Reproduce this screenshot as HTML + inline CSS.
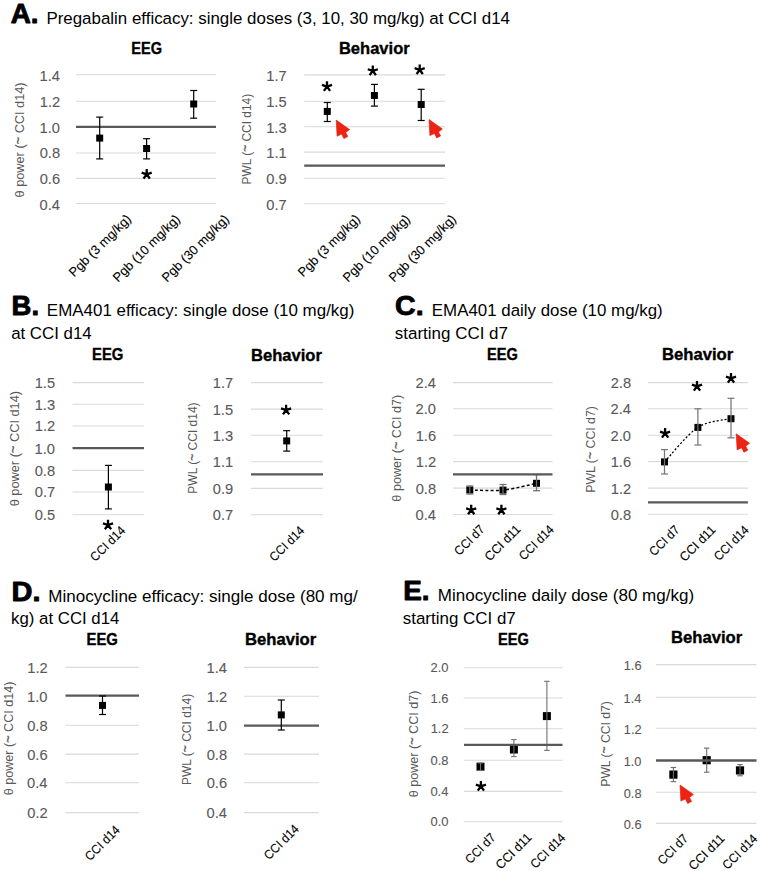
<!DOCTYPE html>
<html><head><meta charset="utf-8"><style>
html,body{margin:0;padding:0;background:#fff;}
svg{display:block;font-family:"Liberation Sans", sans-serif;}
</style></head><body>
<svg width="760" height="871" viewBox="0 0 760 871">
<rect width="760" height="871" fill="#fff"/>
<line x1="76.00" y1="74.80" x2="216.00" y2="74.80" stroke="#d9d9d9" stroke-width="1.1"/>
<line x1="76.00" y1="101.30" x2="216.00" y2="101.30" stroke="#d9d9d9" stroke-width="1.1"/>
<line x1="76.00" y1="126.80" x2="216.00" y2="126.80" stroke="#d9d9d9" stroke-width="1.1"/>
<line x1="76.00" y1="153.00" x2="216.00" y2="153.00" stroke="#d9d9d9" stroke-width="1.1"/>
<line x1="76.00" y1="178.40" x2="216.00" y2="178.40" stroke="#d9d9d9" stroke-width="1.1"/>
<line x1="76.00" y1="203.50" x2="216.00" y2="203.50" stroke="#d9d9d9" stroke-width="1.1"/>
<text x="39.52" y="81.10" font-size="15.3" fill="#595959" font-weight="normal" textLength="20.42" lengthAdjust="spacingAndGlyphs" stroke="#595959" stroke-width="0.1">1.4</text>
<text x="39.82" y="106.86" font-size="15.3" fill="#595959" font-weight="normal" textLength="20.42" lengthAdjust="spacingAndGlyphs" stroke="#595959" stroke-width="0.1">1.2</text>
<text x="39.60" y="132.62" font-size="15.3" fill="#595959" font-weight="normal" textLength="20.42" lengthAdjust="spacingAndGlyphs" stroke="#595959" stroke-width="0.1">1.0</text>
<text x="39.67" y="158.38" font-size="15.3" fill="#595959" font-weight="normal" textLength="20.42" lengthAdjust="spacingAndGlyphs" stroke="#595959" stroke-width="0.1">0.8</text>
<text x="39.67" y="184.14" font-size="15.3" fill="#595959" font-weight="normal" textLength="20.42" lengthAdjust="spacingAndGlyphs" stroke="#595959" stroke-width="0.1">0.6</text>
<text x="39.52" y="209.90" font-size="15.3" fill="#595959" font-weight="normal" textLength="20.42" lengthAdjust="spacingAndGlyphs" stroke="#595959" stroke-width="0.1">0.4</text>
<line x1="76.00" y1="126.80" x2="216.00" y2="126.80" stroke="#595959" stroke-width="2.3"/>
<text transform="translate(23.50,197.44) rotate(-90)" font-size="12.8" fill="#595959" font-weight="normal" textLength="115.03" lengthAdjust="spacingAndGlyphs">θ power (<tspan dy="-1.7" stroke="#595959" stroke-width="0.35">~</tspan><tspan dy="1.7"> CCI d14)</tspan></text>
<text x="131.25" y="53.90" font-size="16.7" fill="#000" font-weight="bold" textLength="30.75" lengthAdjust="spacingAndGlyphs" stroke="#000" stroke-width="0.35">EEG</text>
<line x1="99.70" y1="117.10" x2="99.70" y2="158.90" stroke="#000" stroke-width="1.2"/>
<line x1="96.20" y1="117.10" x2="103.20" y2="117.10" stroke="#000" stroke-width="1.2"/>
<line x1="96.20" y1="158.90" x2="103.20" y2="158.90" stroke="#000" stroke-width="1.2"/>
<rect x="96.20" y="134.60" width="7" height="7" fill="#000"/>
<line x1="146.60" y1="138.70" x2="146.60" y2="158.90" stroke="#000" stroke-width="1.2"/>
<line x1="143.10" y1="138.70" x2="150.10" y2="138.70" stroke="#000" stroke-width="1.2"/>
<line x1="143.10" y1="158.90" x2="150.10" y2="158.90" stroke="#000" stroke-width="1.2"/>
<rect x="143.10" y="145.00" width="7" height="7" fill="#000"/>
<line x1="193.70" y1="90.50" x2="193.70" y2="118.20" stroke="#000" stroke-width="1.2"/>
<line x1="190.20" y1="90.50" x2="197.20" y2="90.50" stroke="#000" stroke-width="1.2"/>
<line x1="190.20" y1="118.20" x2="197.20" y2="118.20" stroke="#000" stroke-width="1.2"/>
<rect x="190.20" y="100.50" width="7" height="7" fill="#000"/>
<path d="M146.70 174.30L146.70 169.00M146.70 174.30L151.74 172.66M146.70 174.30L149.82 178.59M146.70 174.30L143.58 178.59M146.70 174.30L141.66 172.66" stroke="#000" stroke-width="2.3" fill="none"/>
<text transform="translate(74.09,277.61) rotate(-45)" font-size="12.8" fill="#000" font-weight="normal" textLength="81.76" lengthAdjust="spacingAndGlyphs" stroke="#000" stroke-width="0.1">Pgb (3 mg/kg)</text>
<text transform="translate(117.94,282.76) rotate(-45)" font-size="12.8" fill="#000" font-weight="normal" textLength="89.00" lengthAdjust="spacingAndGlyphs" stroke="#000" stroke-width="0.1">Pgb (10 mg/kg)</text>
<text transform="translate(166.94,282.76) rotate(-45)" font-size="12.8" fill="#000" font-weight="normal" textLength="89.00" lengthAdjust="spacingAndGlyphs" stroke="#000" stroke-width="0.1">Pgb (30 mg/kg)</text>
<line x1="304.20" y1="74.90" x2="445.00" y2="74.90" stroke="#d9d9d9" stroke-width="1.1"/>
<line x1="304.20" y1="101.30" x2="445.00" y2="101.30" stroke="#d9d9d9" stroke-width="1.1"/>
<line x1="304.20" y1="126.70" x2="445.00" y2="126.70" stroke="#d9d9d9" stroke-width="1.1"/>
<line x1="304.20" y1="152.10" x2="445.00" y2="152.10" stroke="#d9d9d9" stroke-width="1.1"/>
<line x1="304.20" y1="178.20" x2="445.00" y2="178.20" stroke="#d9d9d9" stroke-width="1.1"/>
<line x1="304.20" y1="203.70" x2="445.00" y2="203.70" stroke="#d9d9d9" stroke-width="1.1"/>
<text x="266.32" y="81.10" font-size="15.3" fill="#595959" font-weight="normal" textLength="20.42" lengthAdjust="spacingAndGlyphs" stroke="#595959" stroke-width="0.1">1.7</text>
<text x="266.17" y="106.86" font-size="15.3" fill="#595959" font-weight="normal" textLength="20.42" lengthAdjust="spacingAndGlyphs" stroke="#595959" stroke-width="0.1">1.5</text>
<text x="266.17" y="132.62" font-size="15.3" fill="#595959" font-weight="normal" textLength="20.42" lengthAdjust="spacingAndGlyphs" stroke="#595959" stroke-width="0.1">1.3</text>
<text x="266.24" y="158.38" font-size="15.3" fill="#595959" font-weight="normal" textLength="20.42" lengthAdjust="spacingAndGlyphs" stroke="#595959" stroke-width="0.1">1.1</text>
<text x="266.24" y="184.14" font-size="15.3" fill="#595959" font-weight="normal" textLength="20.42" lengthAdjust="spacingAndGlyphs" stroke="#595959" stroke-width="0.1">0.9</text>
<text x="266.32" y="209.90" font-size="15.3" fill="#595959" font-weight="normal" textLength="20.42" lengthAdjust="spacingAndGlyphs" stroke="#595959" stroke-width="0.1">0.7</text>
<line x1="304.20" y1="165.60" x2="445.00" y2="165.60" stroke="#595959" stroke-width="2.3"/>
<text transform="translate(250.80,184.45) rotate(-90)" font-size="12.8" fill="#595959" font-weight="normal" textLength="90.62" lengthAdjust="spacingAndGlyphs">PWL (<tspan dy="-1.7" stroke="#595959" stroke-width="0.35">~</tspan><tspan dy="1.7"> CCI d14)</tspan></text>
<text x="338.92" y="53.90" font-size="16.7" fill="#000" font-weight="bold" textLength="70.81" lengthAdjust="spacingAndGlyphs" stroke="#000" stroke-width="0.35">Behavior</text>
<line x1="327.30" y1="102.50" x2="327.30" y2="121.50" stroke="#000" stroke-width="1.2"/>
<line x1="323.80" y1="102.50" x2="330.80" y2="102.50" stroke="#000" stroke-width="1.2"/>
<line x1="323.80" y1="121.50" x2="330.80" y2="121.50" stroke="#000" stroke-width="1.2"/>
<rect x="323.80" y="107.90" width="7" height="7" fill="#000"/>
<line x1="374.40" y1="84.40" x2="374.40" y2="106.10" stroke="#000" stroke-width="1.2"/>
<line x1="370.90" y1="84.40" x2="377.90" y2="84.40" stroke="#000" stroke-width="1.2"/>
<line x1="370.90" y1="106.10" x2="377.90" y2="106.10" stroke="#000" stroke-width="1.2"/>
<rect x="370.90" y="92.00" width="7" height="7" fill="#000"/>
<line x1="421.20" y1="89.30" x2="421.20" y2="120.50" stroke="#000" stroke-width="1.2"/>
<line x1="417.70" y1="89.30" x2="424.70" y2="89.30" stroke="#000" stroke-width="1.2"/>
<line x1="417.70" y1="120.50" x2="424.70" y2="120.50" stroke="#000" stroke-width="1.2"/>
<rect x="417.70" y="101.00" width="7" height="7" fill="#000"/>
<path d="M327.00 86.60L327.00 81.30M327.00 86.60L332.04 84.96M327.00 86.60L330.12 90.89M327.00 86.60L323.88 90.89M327.00 86.60L321.96 84.96" stroke="#000" stroke-width="2.3" fill="none"/>
<path d="M372.80 70.90L372.80 65.60M372.80 70.90L377.84 69.26M372.80 70.90L375.92 75.19M372.80 70.90L369.68 75.19M372.80 70.90L367.76 69.26" stroke="#000" stroke-width="2.3" fill="none"/>
<path d="M419.70 69.80L419.70 64.50M419.70 69.80L424.74 68.16M419.70 69.80L422.82 74.09M419.70 69.80L416.58 74.09M419.70 69.80L414.66 68.16" stroke="#000" stroke-width="2.3" fill="none"/>
<polygon points="336.20,120.10 337.10,136.20 341.60,134.10 343.90,138.60 347.80,136.50 345.70,132.60 349.60,129.50" fill="#ef2312" stroke="#d81a0c" stroke-width="0.6" stroke-linejoin="round"/>
<polygon points="429.00,119.50 429.90,135.60 434.40,133.50 436.70,138.00 440.60,135.90 438.50,132.00 442.40,128.90" fill="#ef2312" stroke="#d81a0c" stroke-width="0.6" stroke-linejoin="round"/>
<text transform="translate(303.09,277.61) rotate(-45)" font-size="12.8" fill="#000" font-weight="normal" textLength="81.76" lengthAdjust="spacingAndGlyphs" stroke="#000" stroke-width="0.1">Pgb (3 mg/kg)</text>
<text transform="translate(347.94,282.76) rotate(-45)" font-size="12.8" fill="#000" font-weight="normal" textLength="89.00" lengthAdjust="spacingAndGlyphs" stroke="#000" stroke-width="0.1">Pgb (10 mg/kg)</text>
<text transform="translate(393.94,282.76) rotate(-45)" font-size="12.8" fill="#000" font-weight="normal" textLength="89.00" lengthAdjust="spacingAndGlyphs" stroke="#000" stroke-width="0.1">Pgb (30 mg/kg)</text>
<line x1="72.50" y1="382.60" x2="144.00" y2="382.60" stroke="#d9d9d9" stroke-width="1.1"/>
<line x1="72.50" y1="404.30" x2="144.00" y2="404.30" stroke="#d9d9d9" stroke-width="1.1"/>
<line x1="72.50" y1="426.00" x2="144.00" y2="426.00" stroke="#d9d9d9" stroke-width="1.1"/>
<line x1="72.50" y1="470.40" x2="144.00" y2="470.40" stroke="#d9d9d9" stroke-width="1.1"/>
<line x1="72.50" y1="492.00" x2="144.00" y2="492.00" stroke="#d9d9d9" stroke-width="1.1"/>
<line x1="72.50" y1="514.80" x2="144.00" y2="514.80" stroke="#d9d9d9" stroke-width="1.1"/>
<text x="34.67" y="388.00" font-size="15.3" fill="#595959" font-weight="normal" textLength="20.42" lengthAdjust="spacingAndGlyphs" stroke="#595959" stroke-width="0.1">1.5</text>
<text x="34.67" y="409.70" font-size="15.3" fill="#595959" font-weight="normal" textLength="20.42" lengthAdjust="spacingAndGlyphs" stroke="#595959" stroke-width="0.1">1.3</text>
<text x="34.82" y="431.40" font-size="15.3" fill="#595959" font-weight="normal" textLength="20.42" lengthAdjust="spacingAndGlyphs" stroke="#595959" stroke-width="0.1">1.2</text>
<text x="34.67" y="475.80" font-size="15.3" fill="#595959" font-weight="normal" textLength="20.42" lengthAdjust="spacingAndGlyphs" stroke="#595959" stroke-width="0.1">0.8</text>
<text x="34.82" y="497.40" font-size="15.3" fill="#595959" font-weight="normal" textLength="20.42" lengthAdjust="spacingAndGlyphs" stroke="#595959" stroke-width="0.1">0.7</text>
<text x="34.67" y="520.20" font-size="15.3" fill="#595959" font-weight="normal" textLength="20.42" lengthAdjust="spacingAndGlyphs" stroke="#595959" stroke-width="0.1">0.5</text>
<text x="34.60" y="454.10" font-size="15.3" fill="#595959" font-weight="normal" textLength="20.42" lengthAdjust="spacingAndGlyphs" stroke="#595959" stroke-width="0.1">1.0</text>
<line x1="72.50" y1="448.10" x2="144.00" y2="448.10" stroke="#595959" stroke-width="2.3"/>
<text transform="translate(18.80,506.34) rotate(-90)" font-size="12.8" fill="#595959" font-weight="normal" textLength="115.43" lengthAdjust="spacingAndGlyphs">θ power (<tspan dy="-1.7" stroke="#595959" stroke-width="0.35">~</tspan><tspan dy="1.7"> CCI d14)</tspan></text>
<text x="92.03" y="360.00" font-size="16.7" fill="#000" font-weight="bold" textLength="31.39" lengthAdjust="spacingAndGlyphs" stroke="#000" stroke-width="0.35">EEG</text>
<line x1="108.40" y1="465.40" x2="108.40" y2="508.90" stroke="#000" stroke-width="1.2"/>
<line x1="104.90" y1="465.40" x2="111.90" y2="465.40" stroke="#000" stroke-width="1.2"/>
<line x1="104.90" y1="508.90" x2="111.90" y2="508.90" stroke="#000" stroke-width="1.2"/>
<rect x="104.90" y="483.50" width="7" height="7" fill="#000"/>
<path d="M108.00 525.00L108.00 519.70M108.00 525.00L113.04 523.36M108.00 525.00L111.12 529.29M108.00 525.00L104.88 529.29M108.00 525.00L102.96 523.36" stroke="#000" stroke-width="2.3" fill="none"/>
<text transform="translate(95.33,562.17) rotate(-45)" font-size="12.8" fill="#000" font-weight="normal" textLength="43.48" lengthAdjust="spacingAndGlyphs" stroke="#000" stroke-width="0.1">CCI d14</text>
<line x1="251.00" y1="382.60" x2="323.00" y2="382.60" stroke="#d9d9d9" stroke-width="1.1"/>
<line x1="251.00" y1="409.10" x2="323.00" y2="409.10" stroke="#d9d9d9" stroke-width="1.1"/>
<line x1="251.00" y1="435.30" x2="323.00" y2="435.30" stroke="#d9d9d9" stroke-width="1.1"/>
<line x1="251.00" y1="461.80" x2="323.00" y2="461.80" stroke="#d9d9d9" stroke-width="1.1"/>
<line x1="251.00" y1="488.40" x2="323.00" y2="488.40" stroke="#d9d9d9" stroke-width="1.1"/>
<line x1="251.00" y1="514.70" x2="323.00" y2="514.70" stroke="#d9d9d9" stroke-width="1.1"/>
<text x="212.82" y="388.00" font-size="15.3" fill="#595959" font-weight="normal" textLength="20.42" lengthAdjust="spacingAndGlyphs" stroke="#595959" stroke-width="0.1">1.7</text>
<text x="212.67" y="414.50" font-size="15.3" fill="#595959" font-weight="normal" textLength="20.42" lengthAdjust="spacingAndGlyphs" stroke="#595959" stroke-width="0.1">1.5</text>
<text x="212.67" y="440.70" font-size="15.3" fill="#595959" font-weight="normal" textLength="20.42" lengthAdjust="spacingAndGlyphs" stroke="#595959" stroke-width="0.1">1.3</text>
<text x="212.74" y="467.20" font-size="15.3" fill="#595959" font-weight="normal" textLength="20.42" lengthAdjust="spacingAndGlyphs" stroke="#595959" stroke-width="0.1">1.1</text>
<text x="212.74" y="493.80" font-size="15.3" fill="#595959" font-weight="normal" textLength="20.42" lengthAdjust="spacingAndGlyphs" stroke="#595959" stroke-width="0.1">0.9</text>
<text x="212.82" y="520.10" font-size="15.3" fill="#595959" font-weight="normal" textLength="20.42" lengthAdjust="spacingAndGlyphs" stroke="#595959" stroke-width="0.1">0.7</text>
<line x1="251.00" y1="474.30" x2="323.00" y2="474.30" stroke="#595959" stroke-width="2.3"/>
<text transform="translate(197.20,493.66) rotate(-90)" font-size="12.8" fill="#595959" font-weight="normal" textLength="91.23" lengthAdjust="spacingAndGlyphs">PWL (<tspan dy="-1.7" stroke="#595959" stroke-width="0.35">~</tspan><tspan dy="1.7"> CCI d14)</tspan></text>
<text x="250.92" y="360.50" font-size="16.7" fill="#000" font-weight="bold" textLength="71.07" lengthAdjust="spacingAndGlyphs" stroke="#000" stroke-width="0.35">Behavior</text>
<line x1="286.70" y1="430.70" x2="286.70" y2="451.10" stroke="#000" stroke-width="1.2"/>
<line x1="283.20" y1="430.70" x2="290.20" y2="430.70" stroke="#000" stroke-width="1.2"/>
<line x1="283.20" y1="451.10" x2="290.20" y2="451.10" stroke="#000" stroke-width="1.2"/>
<rect x="283.20" y="437.40" width="7" height="7" fill="#000"/>
<path d="M286.10 410.10L286.10 404.80M286.10 410.10L291.14 408.46M286.10 410.10L289.22 414.39M286.10 410.10L282.98 414.39M286.10 410.10L281.06 408.46" stroke="#000" stroke-width="2.3" fill="none"/>
<text transform="translate(274.53,562.17) rotate(-45)" font-size="12.8" fill="#000" font-weight="normal" textLength="43.48" lengthAdjust="spacingAndGlyphs" stroke="#000" stroke-width="0.1">CCI d14</text>
<line x1="453.00" y1="382.60" x2="552.50" y2="382.60" stroke="#d9d9d9" stroke-width="1.1"/>
<line x1="453.00" y1="408.70" x2="552.50" y2="408.70" stroke="#d9d9d9" stroke-width="1.1"/>
<line x1="453.00" y1="435.20" x2="552.50" y2="435.20" stroke="#d9d9d9" stroke-width="1.1"/>
<line x1="453.00" y1="461.60" x2="552.50" y2="461.60" stroke="#d9d9d9" stroke-width="1.1"/>
<line x1="453.00" y1="488.10" x2="552.50" y2="488.10" stroke="#d9d9d9" stroke-width="1.1"/>
<line x1="453.00" y1="514.50" x2="552.50" y2="514.50" stroke="#d9d9d9" stroke-width="1.1"/>
<text x="415.52" y="388.10" font-size="15.3" fill="#595959" font-weight="normal" textLength="20.42" lengthAdjust="spacingAndGlyphs" stroke="#595959" stroke-width="0.1">2.4</text>
<text x="415.60" y="414.20" font-size="15.3" fill="#595959" font-weight="normal" textLength="20.42" lengthAdjust="spacingAndGlyphs" stroke="#595959" stroke-width="0.1">2.0</text>
<text x="415.67" y="440.70" font-size="15.3" fill="#595959" font-weight="normal" textLength="20.42" lengthAdjust="spacingAndGlyphs" stroke="#595959" stroke-width="0.1">1.6</text>
<text x="415.82" y="467.10" font-size="15.3" fill="#595959" font-weight="normal" textLength="20.42" lengthAdjust="spacingAndGlyphs" stroke="#595959" stroke-width="0.1">1.2</text>
<text x="415.67" y="493.60" font-size="15.3" fill="#595959" font-weight="normal" textLength="20.42" lengthAdjust="spacingAndGlyphs" stroke="#595959" stroke-width="0.1">0.8</text>
<text x="415.52" y="520.00" font-size="15.3" fill="#595959" font-weight="normal" textLength="20.42" lengthAdjust="spacingAndGlyphs" stroke="#595959" stroke-width="0.1">0.4</text>
<text transform="translate(401.40,501.63) rotate(-90)" font-size="12.8" fill="#595959" font-weight="normal" textLength="106.90" lengthAdjust="spacingAndGlyphs">θ power (<tspan dy="-1.7" stroke="#595959" stroke-width="0.35">~</tspan><tspan dy="1.7"> CCI d7)</tspan></text>
<text x="487.05" y="360.00" font-size="16.7" fill="#000" font-weight="bold" textLength="30.85" lengthAdjust="spacingAndGlyphs" stroke="#000" stroke-width="0.35">EEG</text>
<path d="M469.80 490.00 C475.33 490.02 491.88 491.22 503.00 490.10 C514.12 488.98 530.92 484.43 536.50 483.30" stroke="#000" stroke-width="1.5" stroke-dasharray="3,2.2" fill="none"/>
<rect x="466.30" y="486.50" width="7" height="7" fill="#000"/>
<line x1="469.80" y1="486.00" x2="469.80" y2="494.00" stroke="#707070" stroke-width="1.3"/>
<line x1="466.30" y1="486.00" x2="473.30" y2="486.00" stroke="#707070" stroke-width="1.3"/>
<line x1="466.30" y1="494.00" x2="473.30" y2="494.00" stroke="#707070" stroke-width="1.3"/>
<rect x="499.50" y="486.60" width="7" height="7" fill="#000"/>
<line x1="503.00" y1="484.50" x2="503.00" y2="494.50" stroke="#707070" stroke-width="1.3"/>
<line x1="499.50" y1="484.50" x2="506.50" y2="484.50" stroke="#707070" stroke-width="1.3"/>
<line x1="499.50" y1="494.50" x2="506.50" y2="494.50" stroke="#707070" stroke-width="1.3"/>
<rect x="533.00" y="479.80" width="7" height="7" fill="#000"/>
<line x1="536.50" y1="474.60" x2="536.50" y2="490.70" stroke="#707070" stroke-width="1.3"/>
<line x1="533.00" y1="474.60" x2="540.00" y2="474.60" stroke="#707070" stroke-width="1.3"/>
<line x1="533.00" y1="490.70" x2="540.00" y2="490.70" stroke="#707070" stroke-width="1.3"/>
<line x1="453.00" y1="474.40" x2="552.50" y2="474.40" stroke="#595959" stroke-width="2.3"/>
<path d="M471.20 510.00L471.20 504.70M471.20 510.00L476.24 508.36M471.20 510.00L474.32 514.29M471.20 510.00L468.08 514.29M471.20 510.00L466.16 508.36" stroke="#000" stroke-width="2.3" fill="none"/>
<path d="M501.40 510.00L501.40 504.70M501.40 510.00L506.44 508.36M501.40 510.00L504.52 514.29M501.40 510.00L498.28 514.29M501.40 510.00L496.36 508.36" stroke="#000" stroke-width="2.3" fill="none"/>
<text transform="translate(459.35,556.15) rotate(-45)" font-size="12.8" fill="#000" font-weight="normal" textLength="36.89" lengthAdjust="spacingAndGlyphs" stroke="#000" stroke-width="0.1">CCI d7</text>
<text transform="translate(489.81,561.69) rotate(-45)" font-size="12.8" fill="#000" font-weight="normal" textLength="44.66" lengthAdjust="spacingAndGlyphs" stroke="#000" stroke-width="0.1">CCI d11</text>
<text transform="translate(524.03,560.97) rotate(-45)" font-size="12.8" fill="#000" font-weight="normal" textLength="43.48" lengthAdjust="spacingAndGlyphs" stroke="#000" stroke-width="0.1">CCI d14</text>
<line x1="648.00" y1="382.60" x2="747.90" y2="382.60" stroke="#d9d9d9" stroke-width="1.1"/>
<line x1="648.00" y1="408.70" x2="747.90" y2="408.70" stroke="#d9d9d9" stroke-width="1.1"/>
<line x1="648.00" y1="435.20" x2="747.90" y2="435.20" stroke="#d9d9d9" stroke-width="1.1"/>
<line x1="648.00" y1="461.60" x2="747.90" y2="461.60" stroke="#d9d9d9" stroke-width="1.1"/>
<line x1="648.00" y1="488.10" x2="747.90" y2="488.10" stroke="#d9d9d9" stroke-width="1.1"/>
<line x1="648.00" y1="514.30" x2="747.90" y2="514.30" stroke="#d9d9d9" stroke-width="1.1"/>
<text x="610.67" y="388.10" font-size="15.3" fill="#595959" font-weight="normal" textLength="20.42" lengthAdjust="spacingAndGlyphs" stroke="#595959" stroke-width="0.1">2.8</text>
<text x="610.52" y="414.20" font-size="15.3" fill="#595959" font-weight="normal" textLength="20.42" lengthAdjust="spacingAndGlyphs" stroke="#595959" stroke-width="0.1">2.4</text>
<text x="610.60" y="440.70" font-size="15.3" fill="#595959" font-weight="normal" textLength="20.42" lengthAdjust="spacingAndGlyphs" stroke="#595959" stroke-width="0.1">2.0</text>
<text x="610.67" y="467.10" font-size="15.3" fill="#595959" font-weight="normal" textLength="20.42" lengthAdjust="spacingAndGlyphs" stroke="#595959" stroke-width="0.1">1.6</text>
<text x="610.82" y="493.60" font-size="15.3" fill="#595959" font-weight="normal" textLength="20.42" lengthAdjust="spacingAndGlyphs" stroke="#595959" stroke-width="0.1">1.2</text>
<text x="610.67" y="519.80" font-size="15.3" fill="#595959" font-weight="normal" textLength="20.42" lengthAdjust="spacingAndGlyphs" stroke="#595959" stroke-width="0.1">0.8</text>
<line x1="648.00" y1="502.40" x2="747.90" y2="502.40" stroke="#595959" stroke-width="2.3"/>
<text transform="translate(595.40,492.78) rotate(-90)" font-size="12.8" fill="#595959" font-weight="normal" textLength="86.66" lengthAdjust="spacingAndGlyphs">PWL (<tspan dy="-1.7" stroke="#595959" stroke-width="0.35">~</tspan><tspan dy="1.7"> CCI d7)</tspan></text>
<text x="661.92" y="360.00" font-size="16.7" fill="#000" font-weight="bold" textLength="71.32" lengthAdjust="spacingAndGlyphs" stroke="#000" stroke-width="0.35">Behavior</text>
<path d="M664.50 461.90 C670.07 456.15 686.82 434.60 697.90 427.40 C708.98 420.20 725.48 420.15 731.00 418.70" stroke="#000" stroke-width="1.3" stroke-dasharray="2,2" fill="none"/>
<rect x="661.00" y="458.40" width="7" height="7" fill="#000"/>
<line x1="664.50" y1="449.60" x2="664.50" y2="474.00" stroke="#777" stroke-width="1.25"/>
<line x1="661.00" y1="449.60" x2="668.00" y2="449.60" stroke="#777" stroke-width="1.25"/>
<line x1="661.00" y1="474.00" x2="668.00" y2="474.00" stroke="#777" stroke-width="1.25"/>
<rect x="694.40" y="423.90" width="7" height="7" fill="#000"/>
<line x1="697.90" y1="408.80" x2="697.90" y2="445.00" stroke="#777" stroke-width="1.25"/>
<line x1="694.40" y1="408.80" x2="701.40" y2="408.80" stroke="#777" stroke-width="1.25"/>
<line x1="694.40" y1="445.00" x2="701.40" y2="445.00" stroke="#777" stroke-width="1.25"/>
<rect x="727.50" y="415.20" width="7" height="7" fill="#000"/>
<line x1="731.00" y1="398.30" x2="731.00" y2="437.80" stroke="#777" stroke-width="1.25"/>
<line x1="727.50" y1="398.30" x2="734.50" y2="398.30" stroke="#777" stroke-width="1.25"/>
<line x1="727.50" y1="437.80" x2="734.50" y2="437.80" stroke="#777" stroke-width="1.25"/>
<path d="M665.10 433.30L665.10 428.00M665.10 433.30L670.14 431.66M665.10 433.30L668.22 437.59M665.10 433.30L661.98 437.59M665.10 433.30L660.06 431.66" stroke="#000" stroke-width="2.3" fill="none"/>
<path d="M697.00 386.30L697.00 381.00M697.00 386.30L702.04 384.66M697.00 386.30L700.12 390.59M697.00 386.30L693.88 390.59M697.00 386.30L691.96 384.66" stroke="#000" stroke-width="2.3" fill="none"/>
<path d="M731.00 378.30L731.00 373.00M731.00 378.30L736.04 376.66M731.00 378.30L734.12 382.59M731.00 378.30L727.88 382.59M731.00 378.30L725.96 376.66" stroke="#000" stroke-width="2.3" fill="none"/>
<polygon points="736.20,433.80 737.10,449.90 741.60,447.80 743.90,452.30 747.80,450.20 745.70,446.30 749.60,443.20" fill="#ef2312" stroke="#d81a0c" stroke-width="0.6" stroke-linejoin="round"/>
<text transform="translate(654.35,556.65) rotate(-45)" font-size="12.8" fill="#000" font-weight="normal" textLength="36.89" lengthAdjust="spacingAndGlyphs" stroke="#000" stroke-width="0.1">CCI d7</text>
<text transform="translate(684.81,562.19) rotate(-45)" font-size="12.8" fill="#000" font-weight="normal" textLength="44.66" lengthAdjust="spacingAndGlyphs" stroke="#000" stroke-width="0.1">CCI d11</text>
<text transform="translate(719.03,561.47) rotate(-45)" font-size="12.8" fill="#000" font-weight="normal" textLength="43.48" lengthAdjust="spacingAndGlyphs" stroke="#000" stroke-width="0.1">CCI d14</text>
<line x1="65.50" y1="667.40" x2="139.00" y2="667.40" stroke="#d9d9d9" stroke-width="1.1"/>
<line x1="65.50" y1="725.30" x2="139.00" y2="725.30" stroke="#d9d9d9" stroke-width="1.1"/>
<line x1="65.50" y1="754.10" x2="139.00" y2="754.10" stroke="#d9d9d9" stroke-width="1.1"/>
<line x1="65.50" y1="782.80" x2="139.00" y2="782.80" stroke="#d9d9d9" stroke-width="1.1"/>
<line x1="65.50" y1="812.60" x2="139.00" y2="812.60" stroke="#d9d9d9" stroke-width="1.1"/>
<text x="27.32" y="672.90" font-size="15.3" fill="#595959" font-weight="normal" textLength="20.42" lengthAdjust="spacingAndGlyphs" stroke="#595959" stroke-width="0.1">1.2</text>
<text x="27.17" y="730.80" font-size="15.3" fill="#595959" font-weight="normal" textLength="20.42" lengthAdjust="spacingAndGlyphs" stroke="#595959" stroke-width="0.1">0.8</text>
<text x="27.17" y="759.60" font-size="15.3" fill="#595959" font-weight="normal" textLength="20.42" lengthAdjust="spacingAndGlyphs" stroke="#595959" stroke-width="0.1">0.6</text>
<text x="27.02" y="788.30" font-size="15.3" fill="#595959" font-weight="normal" textLength="20.42" lengthAdjust="spacingAndGlyphs" stroke="#595959" stroke-width="0.1">0.4</text>
<text x="27.32" y="818.10" font-size="15.3" fill="#595959" font-weight="normal" textLength="20.42" lengthAdjust="spacingAndGlyphs" stroke="#595959" stroke-width="0.1">0.2</text>
<text x="27.10" y="701.90" font-size="15.3" fill="#595959" font-weight="normal" textLength="20.42" lengthAdjust="spacingAndGlyphs" stroke="#595959" stroke-width="0.1">1.0</text>
<line x1="65.50" y1="695.70" x2="139.00" y2="695.70" stroke="#595959" stroke-width="2.3"/>
<text transform="translate(13.40,795.23) rotate(-90)" font-size="12.8" fill="#595959" font-weight="normal" textLength="113.61" lengthAdjust="spacingAndGlyphs">θ power (<tspan dy="-1.7" stroke="#595959" stroke-width="0.35">~</tspan><tspan dy="1.7"> CCI d14)</tspan></text>
<text x="86.53" y="645.00" font-size="16.7" fill="#000" font-weight="bold" textLength="31.39" lengthAdjust="spacingAndGlyphs" stroke="#000" stroke-width="0.35">EEG</text>
<line x1="102.50" y1="696.00" x2="102.50" y2="714.50" stroke="#000" stroke-width="1.2"/>
<line x1="99.00" y1="696.00" x2="106.00" y2="696.00" stroke="#000" stroke-width="1.2"/>
<line x1="99.00" y1="714.50" x2="106.00" y2="714.50" stroke="#000" stroke-width="1.2"/>
<rect x="99.00" y="701.90" width="7" height="7" fill="#000"/>
<text transform="translate(90.03,861.47) rotate(-45)" font-size="12.8" fill="#000" font-weight="normal" textLength="43.48" lengthAdjust="spacingAndGlyphs" stroke="#000" stroke-width="0.1">CCI d14</text>
<line x1="244.00" y1="667.40" x2="319.00" y2="667.40" stroke="#d9d9d9" stroke-width="1.1"/>
<line x1="244.00" y1="696.20" x2="319.00" y2="696.20" stroke="#d9d9d9" stroke-width="1.1"/>
<line x1="244.00" y1="754.10" x2="319.00" y2="754.10" stroke="#d9d9d9" stroke-width="1.1"/>
<line x1="244.00" y1="782.80" x2="319.00" y2="782.80" stroke="#d9d9d9" stroke-width="1.1"/>
<line x1="244.00" y1="812.60" x2="319.00" y2="812.60" stroke="#d9d9d9" stroke-width="1.1"/>
<text x="206.52" y="672.90" font-size="15.3" fill="#595959" font-weight="normal" textLength="20.42" lengthAdjust="spacingAndGlyphs" stroke="#595959" stroke-width="0.1">1.4</text>
<text x="206.82" y="701.70" font-size="15.3" fill="#595959" font-weight="normal" textLength="20.42" lengthAdjust="spacingAndGlyphs" stroke="#595959" stroke-width="0.1">1.2</text>
<text x="206.67" y="759.60" font-size="15.3" fill="#595959" font-weight="normal" textLength="20.42" lengthAdjust="spacingAndGlyphs" stroke="#595959" stroke-width="0.1">0.8</text>
<text x="206.67" y="788.30" font-size="15.3" fill="#595959" font-weight="normal" textLength="20.42" lengthAdjust="spacingAndGlyphs" stroke="#595959" stroke-width="0.1">0.6</text>
<text x="206.52" y="818.10" font-size="15.3" fill="#595959" font-weight="normal" textLength="20.42" lengthAdjust="spacingAndGlyphs" stroke="#595959" stroke-width="0.1">0.4</text>
<text x="206.60" y="730.70" font-size="15.3" fill="#595959" font-weight="normal" textLength="20.42" lengthAdjust="spacingAndGlyphs" stroke="#595959" stroke-width="0.1">1.0</text>
<line x1="244.00" y1="725.60" x2="319.00" y2="725.60" stroke="#595959" stroke-width="2.3"/>
<text transform="translate(190.80,785.06) rotate(-90)" font-size="12.8" fill="#595959" font-weight="normal" textLength="91.23" lengthAdjust="spacingAndGlyphs">PWL (<tspan dy="-1.7" stroke="#595959" stroke-width="0.35">~</tspan><tspan dy="1.7"> CCI d14)</tspan></text>
<text x="244.92" y="645.00" font-size="16.7" fill="#000" font-weight="bold" textLength="71.32" lengthAdjust="spacingAndGlyphs" stroke="#000" stroke-width="0.35">Behavior</text>
<line x1="281.30" y1="700.00" x2="281.30" y2="730.00" stroke="#000" stroke-width="1.2"/>
<line x1="277.80" y1="700.00" x2="284.80" y2="700.00" stroke="#000" stroke-width="1.2"/>
<line x1="277.80" y1="730.00" x2="284.80" y2="730.00" stroke="#000" stroke-width="1.2"/>
<rect x="277.80" y="711.40" width="7" height="7" fill="#000"/>
<text transform="translate(269.03,860.47) rotate(-45)" font-size="12.8" fill="#000" font-weight="normal" textLength="43.48" lengthAdjust="spacingAndGlyphs" stroke="#000" stroke-width="0.1">CCI d14</text>
<line x1="464.00" y1="667.80" x2="562.50" y2="667.80" stroke="#d9d9d9" stroke-width="1.1"/>
<line x1="464.00" y1="698.00" x2="562.50" y2="698.00" stroke="#d9d9d9" stroke-width="1.1"/>
<line x1="464.00" y1="728.70" x2="562.50" y2="728.70" stroke="#d9d9d9" stroke-width="1.1"/>
<line x1="464.00" y1="760.20" x2="562.50" y2="760.20" stroke="#d9d9d9" stroke-width="1.1"/>
<line x1="464.00" y1="791.40" x2="562.50" y2="791.40" stroke="#d9d9d9" stroke-width="1.1"/>
<line x1="464.00" y1="821.80" x2="562.50" y2="821.80" stroke="#d9d9d9" stroke-width="1.1"/>
<text x="430.48" y="672.30" font-size="12.2" fill="#595959" font-weight="normal" textLength="17.98" lengthAdjust="spacingAndGlyphs" stroke="#595959" stroke-width="0.1">2.0</text>
<text x="430.54" y="702.50" font-size="12.2" fill="#595959" font-weight="normal" textLength="17.98" lengthAdjust="spacingAndGlyphs" stroke="#595959" stroke-width="0.1">1.6</text>
<text x="430.67" y="733.20" font-size="12.2" fill="#595959" font-weight="normal" textLength="17.98" lengthAdjust="spacingAndGlyphs" stroke="#595959" stroke-width="0.1">1.2</text>
<text x="430.54" y="764.70" font-size="12.2" fill="#595959" font-weight="normal" textLength="17.98" lengthAdjust="spacingAndGlyphs" stroke="#595959" stroke-width="0.1">0.8</text>
<text x="430.41" y="795.90" font-size="12.2" fill="#595959" font-weight="normal" textLength="17.98" lengthAdjust="spacingAndGlyphs" stroke="#595959" stroke-width="0.1">0.4</text>
<text x="430.48" y="826.30" font-size="12.2" fill="#595959" font-weight="normal" textLength="17.98" lengthAdjust="spacingAndGlyphs" stroke="#595959" stroke-width="0.1">0.0</text>
<text transform="translate(417.80,797.33) rotate(-90)" font-size="12.8" fill="#595959" font-weight="normal" textLength="106.90" lengthAdjust="spacingAndGlyphs">θ power (<tspan dy="-1.7" stroke="#595959" stroke-width="0.35">~</tspan><tspan dy="1.7"> CCI d7)</tspan></text>
<text x="498.05" y="645.00" font-size="16.7" fill="#000" font-weight="bold" textLength="30.85" lengthAdjust="spacingAndGlyphs" stroke="#000" stroke-width="0.35">EEG</text>
<rect x="476.50" y="762.70" width="8" height="8" fill="#000"/>
<line x1="480.50" y1="763.00" x2="480.50" y2="770.50" stroke="#707070" stroke-width="1.1"/>
<line x1="477.75" y1="763.00" x2="483.25" y2="763.00" stroke="#707070" stroke-width="1.1"/>
<line x1="477.75" y1="770.50" x2="483.25" y2="770.50" stroke="#707070" stroke-width="1.1"/>
<rect x="509.90" y="745.50" width="8" height="8" fill="#000"/>
<line x1="513.90" y1="739.60" x2="513.90" y2="756.60" stroke="#707070" stroke-width="1.1"/>
<line x1="511.15" y1="739.60" x2="516.65" y2="739.60" stroke="#707070" stroke-width="1.1"/>
<line x1="511.15" y1="756.60" x2="516.65" y2="756.60" stroke="#707070" stroke-width="1.1"/>
<rect x="542.90" y="712.10" width="8" height="8" fill="#000"/>
<line x1="546.90" y1="681.30" x2="546.90" y2="750.40" stroke="#707070" stroke-width="1.1"/>
<line x1="544.15" y1="681.30" x2="549.65" y2="681.30" stroke="#707070" stroke-width="1.1"/>
<line x1="544.15" y1="750.40" x2="549.65" y2="750.40" stroke="#707070" stroke-width="1.1"/>
<line x1="464.00" y1="744.80" x2="562.50" y2="744.80" stroke="#595959" stroke-width="2.3"/>
<path d="M480.90 786.30L480.90 781.00M480.90 786.30L485.94 784.66M480.90 786.30L484.02 790.59M480.90 786.30L477.78 790.59M480.90 786.30L475.86 784.66" stroke="#000" stroke-width="2.3" fill="none"/>
<text transform="translate(470.35,864.45) rotate(-45)" font-size="12.8" fill="#000" font-weight="normal" textLength="36.89" lengthAdjust="spacingAndGlyphs" stroke="#000" stroke-width="0.1">CCI d7</text>
<text transform="translate(500.81,869.99) rotate(-45)" font-size="12.8" fill="#000" font-weight="normal" textLength="44.66" lengthAdjust="spacingAndGlyphs" stroke="#000" stroke-width="0.1">CCI d11</text>
<text transform="translate(535.53,869.27) rotate(-45)" font-size="12.8" fill="#000" font-weight="normal" textLength="43.48" lengthAdjust="spacingAndGlyphs" stroke="#000" stroke-width="0.1">CCI d14</text>
<line x1="656.00" y1="664.60" x2="756.50" y2="664.60" stroke="#d9d9d9" stroke-width="1.1"/>
<line x1="656.00" y1="697.20" x2="756.50" y2="697.20" stroke="#d9d9d9" stroke-width="1.1"/>
<line x1="656.00" y1="728.30" x2="756.50" y2="728.30" stroke="#d9d9d9" stroke-width="1.1"/>
<line x1="656.00" y1="792.20" x2="756.50" y2="792.20" stroke="#d9d9d9" stroke-width="1.1"/>
<line x1="656.00" y1="823.40" x2="756.50" y2="823.40" stroke="#d9d9d9" stroke-width="1.1"/>
<text x="623.72" y="670.00" font-size="12.8" fill="#595959" font-weight="normal" textLength="17.79" lengthAdjust="spacingAndGlyphs" stroke="#595959" stroke-width="0.1">1.6</text>
<text x="623.59" y="702.60" font-size="12.8" fill="#595959" font-weight="normal" textLength="17.79" lengthAdjust="spacingAndGlyphs" stroke="#595959" stroke-width="0.1">1.4</text>
<text x="623.85" y="733.70" font-size="12.8" fill="#595959" font-weight="normal" textLength="17.79" lengthAdjust="spacingAndGlyphs" stroke="#595959" stroke-width="0.1">1.2</text>
<text x="623.72" y="797.60" font-size="12.8" fill="#595959" font-weight="normal" textLength="17.79" lengthAdjust="spacingAndGlyphs" stroke="#595959" stroke-width="0.1">0.8</text>
<text x="623.72" y="828.80" font-size="12.8" fill="#595959" font-weight="normal" textLength="17.79" lengthAdjust="spacingAndGlyphs" stroke="#595959" stroke-width="0.1">0.6</text>
<text x="623.66" y="765.70" font-size="12.8" fill="#595959" font-weight="normal" textLength="17.79" lengthAdjust="spacingAndGlyphs" stroke="#595959" stroke-width="0.1">1.0</text>
<text transform="translate(609.80,786.67) rotate(-90)" font-size="12.8" fill="#595959" font-weight="normal" textLength="85.54" lengthAdjust="spacingAndGlyphs">PWL (<tspan dy="-1.7" stroke="#595959" stroke-width="0.35">~</tspan><tspan dy="1.7"> CCI d7)</tspan></text>
<text x="670.92" y="643.00" font-size="16.7" fill="#000" font-weight="bold" textLength="71.32" lengthAdjust="spacingAndGlyphs" stroke="#000" stroke-width="0.35">Behavior</text>
<rect x="669.30" y="770.50" width="8.2" height="8.2" fill="#000"/>
<line x1="673.40" y1="767.50" x2="673.40" y2="781.70" stroke="#6a6a6a" stroke-width="1.1"/>
<line x1="670.65" y1="767.50" x2="676.15" y2="767.50" stroke="#6a6a6a" stroke-width="1.1"/>
<line x1="670.65" y1="781.70" x2="676.15" y2="781.70" stroke="#6a6a6a" stroke-width="1.1"/>
<rect x="702.60" y="756.10" width="8.2" height="8.2" fill="#000"/>
<line x1="706.70" y1="748.10" x2="706.70" y2="772.20" stroke="#6a6a6a" stroke-width="1.1"/>
<line x1="703.95" y1="748.10" x2="709.45" y2="748.10" stroke="#6a6a6a" stroke-width="1.1"/>
<line x1="703.95" y1="772.20" x2="709.45" y2="772.20" stroke="#6a6a6a" stroke-width="1.1"/>
<rect x="735.90" y="766.30" width="8.2" height="8.2" fill="#000"/>
<line x1="740.00" y1="764.60" x2="740.00" y2="775.80" stroke="#6a6a6a" stroke-width="1.1"/>
<line x1="737.25" y1="764.60" x2="742.75" y2="764.60" stroke="#6a6a6a" stroke-width="1.1"/>
<line x1="737.25" y1="775.80" x2="742.75" y2="775.80" stroke="#6a6a6a" stroke-width="1.1"/>
<line x1="656.00" y1="760.50" x2="756.50" y2="760.50" stroke="#595959" stroke-width="2.3"/>
<polygon points="680.00,785.00 680.90,801.10 685.40,799.00 687.70,803.50 691.60,801.40 689.50,797.50 693.40,794.40" fill="#ef2312" stroke="#d81a0c" stroke-width="0.6" stroke-linejoin="round"/>
<text transform="translate(662.85,865.45) rotate(-45)" font-size="12.8" fill="#000" font-weight="normal" textLength="36.89" lengthAdjust="spacingAndGlyphs" stroke="#000" stroke-width="0.1">CCI d7</text>
<text transform="translate(693.81,870.99) rotate(-45)" font-size="12.8" fill="#000" font-weight="normal" textLength="44.66" lengthAdjust="spacingAndGlyphs" stroke="#000" stroke-width="0.1">CCI d11</text>
<text transform="translate(727.53,870.27) rotate(-45)" font-size="12.8" fill="#000" font-weight="normal" textLength="43.48" lengthAdjust="spacingAndGlyphs" stroke="#000" stroke-width="0.1">CCI d14</text>
<text x="10.70" y="23.45" font-size="27.9" fill="#000" font-weight="bold" textLength="27.85" lengthAdjust="spacingAndGlyphs" stroke="#000" stroke-width="0.9" stroke-linejoin="round">A.</text>
<text x="46.45" y="23.70" font-size="16.9" fill="#000" font-weight="normal" textLength="463.58" lengthAdjust="spacingAndGlyphs">Pregabalin efficacy: single doses (3, 10, 30 mg/kg) at CCI d14</text>
<text x="11.56" y="315.25" font-size="27.9" fill="#000" font-weight="bold" textLength="27.51" lengthAdjust="spacingAndGlyphs" stroke="#000" stroke-width="0.9" stroke-linejoin="round">B.</text>
<text x="46.85" y="315.70" font-size="16.9" fill="#000" font-weight="normal" textLength="307.52" lengthAdjust="spacingAndGlyphs">EMA401 efficacy: single dose (10 mg/kg)</text>
<text x="11.13" y="338.60" font-size="16.9" fill="#000" font-weight="normal" textLength="80.59" lengthAdjust="spacingAndGlyphs">at CCI d14</text>
<text x="395.11" y="315.25" font-size="27.9" fill="#000" font-weight="bold" textLength="28.54" lengthAdjust="spacingAndGlyphs" stroke="#000" stroke-width="0.9" stroke-linejoin="round">C.</text>
<text x="431.85" y="315.70" font-size="16.9" fill="#000" font-weight="normal" textLength="230.83" lengthAdjust="spacingAndGlyphs">EMA401 daily dose (10 mg/kg)</text>
<text x="394.79" y="338.50" font-size="16.9" fill="#000" font-weight="normal" textLength="113.15" lengthAdjust="spacingAndGlyphs">starting CCI d7</text>
<text x="11.46" y="601.25" font-size="27.9" fill="#000" font-weight="bold" textLength="29.02" lengthAdjust="spacingAndGlyphs" stroke="#000" stroke-width="0.9" stroke-linejoin="round">D.</text>
<text x="48.34" y="601.70" font-size="16.9" fill="#000" font-weight="normal" textLength="309.41" lengthAdjust="spacingAndGlyphs">Minocycline efficacy: single dose (80 mg/</text>
<text x="11.11" y="623.50" font-size="16.9" fill="#000" font-weight="normal" textLength="108.23" lengthAdjust="spacingAndGlyphs">kg) at CCI d14</text>
<text x="403.14" y="600.15" font-size="27.9" fill="#000" font-weight="bold" textLength="26.36" lengthAdjust="spacingAndGlyphs" stroke="#000" stroke-width="0.9" stroke-linejoin="round">E.</text>
<text x="437.74" y="600.60" font-size="16.9" fill="#000" font-weight="normal" textLength="256.42" lengthAdjust="spacingAndGlyphs">Minocycline daily dose (80 mg/kg)</text>
<text x="402.79" y="623.80" font-size="16.9" fill="#000" font-weight="normal" textLength="112.95" lengthAdjust="spacingAndGlyphs">starting CCI d7</text>
</svg>
</body></html>
